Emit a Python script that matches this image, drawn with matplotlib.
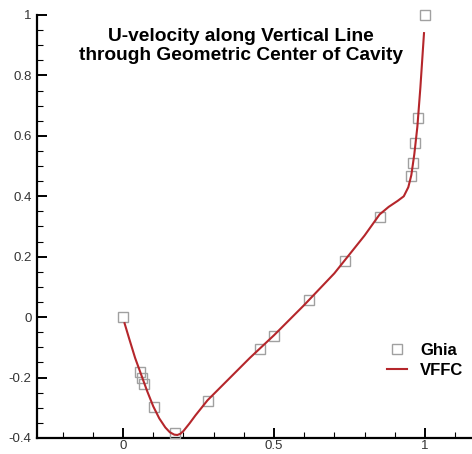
import numpy as np
import matplotlib
matplotlib.use("Agg")
from matplotlib import pyplot as plt
from matplotlib.ticker import MultipleLocator, FuncFormatter

plt.rcParams['font.family'] = ['Liberation Sans', 'DejaVu Sans']
plt.rcParams['axes.unicode_minus'] = False

# Ghia et al. (Re=1000), u along vertical centerline
ghia_y = [1.0, 0.9766, 0.9688, 0.9609, 0.9531, 0.8516, 0.7344, 0.6172, 0.5,
          0.4531, 0.2813, 0.1719, 0.1016, 0.0703, 0.0625, 0.0547, 0.0]
ghia_u = [1.0, 0.65928, 0.57492, 0.51117, 0.46604, 0.33304, 0.18719, 0.05702,
          -0.06080, -0.10648, -0.27805, -0.38289, -0.29730, -0.22220, -0.20196,
          -0.18109, 0.0]

# VFFC solution
vffc_y = [0.005, 0.02, 0.04, 0.06, 0.08, 0.10, 0.12, 0.14, 0.155, 0.17, 0.18,
          0.19, 0.20, 0.22, 0.24, 0.28, 0.35, 0.42, 0.50, 0.60, 0.70, 0.80,
          0.85, 0.88, 0.91, 0.93, 0.945, 0.955, 0.965, 0.975, 0.985, 0.997]
vffc_u = [-0.02, -0.07, -0.135, -0.19, -0.245, -0.295, -0.335, -0.365, -0.381,
          -0.389, -0.39, -0.386, -0.377, -0.352, -0.325, -0.275, -0.205,
          -0.135, -0.06, 0.04, 0.145, 0.27, 0.34, 0.365, 0.385, 0.40, 0.43,
          0.47, 0.54, 0.63, 0.76, 0.94]

fig = plt.figure(figsize=(4.72, 4.54), dpi=100)
ax = fig.add_axes([37/472, 16/454, 1 - 37/472, (438 - 15)/454])

ax.plot(ghia_y, ghia_u, linestyle='none', marker='s', markersize=7.5,
        markerfacecolor='none', markeredgecolor='#a0a0a0', markeredgewidth=1.0,
        label='Ghia', clip_on=False, zorder=3)
ax.plot(vffc_y, vffc_u, color='#b5262b', linewidth=1.5, label='VFFC', zorder=4)

ax.set_xlim(-0.285, 1.156)
ax.set_ylim(-0.4, 1.0)

for s in ['top', 'right']:
    ax.spines[s].set_visible(False)
for s in ['left', 'bottom']:
    ax.spines[s].set_linewidth(1.6)

ax.xaxis.set_major_locator(MultipleLocator(0.5))
ax.xaxis.set_minor_locator(MultipleLocator(0.1))
ax.yaxis.set_major_locator(MultipleLocator(0.2))
ax.yaxis.set_minor_locator(MultipleLocator(0.05))
ax.xaxis.set_major_formatter(FuncFormatter(lambda v, p: '%g' % round(v, 2)))
ax.yaxis.set_major_formatter(FuncFormatter(lambda v, p: '%g' % round(v, 2)))

ax.tick_params(which='major', direction='in', length=7, width=1.4,
               labelsize=9.5, labelcolor='#333333')
ax.tick_params(which='minor', direction='in', length=4, width=0.8)
ax.tick_params(axis='x', which='major', pad=1.5)
ax.tick_params(axis='y', which='major', pad=4)

fig.text(241/472, 1 - 46/454,
         'U-velocity along Vertical Line\nthrough Geometric Center of Cavity',
         ha='center', va='center', fontsize=13.8, fontweight='bold',
         linespacing=1.12)

ax.legend(loc='upper left', bbox_to_anchor=(0.77, 0.26), frameon=False,
          prop={'weight': 'bold', 'size': 12}, handlelength=1.2,
          handletextpad=0.8, labelspacing=0.3)

fig.savefig('out.png', dpi=100)
